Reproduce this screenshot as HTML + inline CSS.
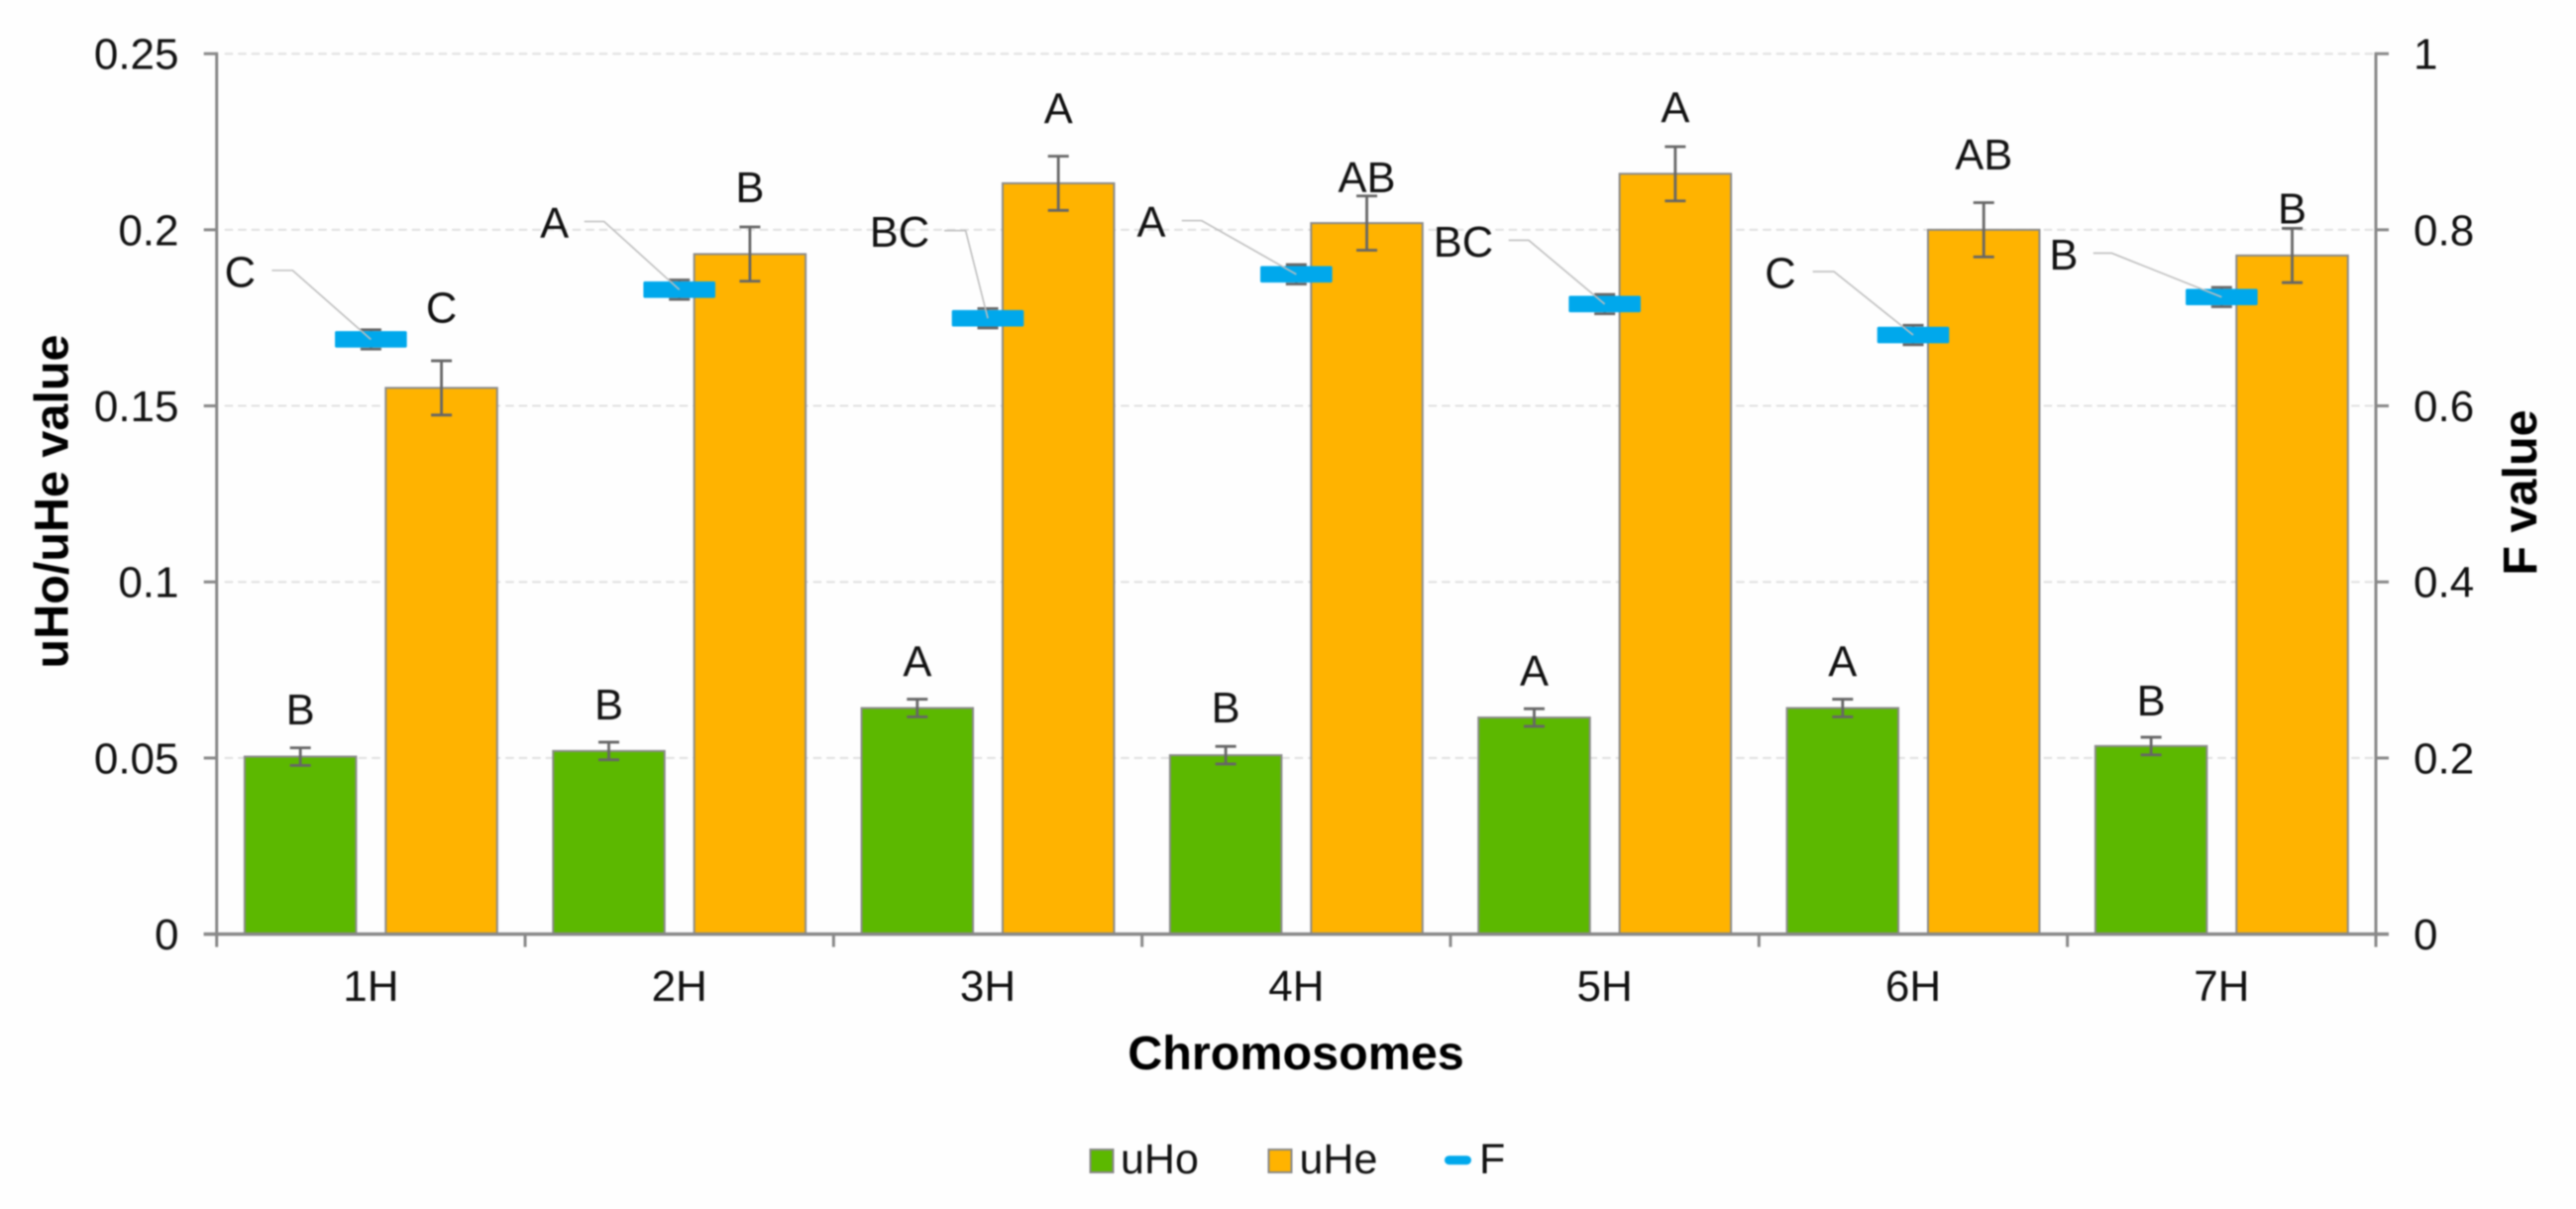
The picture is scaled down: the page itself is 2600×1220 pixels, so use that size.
<!DOCTYPE html>
<html lang="en">
<head>
<meta charset="utf-8">
<title>uHo, uHe and F value by chromosome</title>
<style>
html,body{margin:0;padding:0;background:#fefefe;}
svg{display:block;width:2600px;height:1220px;filter:blur(0.8px);}
text{font-family:"Liberation Sans",Arial,sans-serif;fill:#111;}
.tick{font-size:44px;}
.sig{font-size:43.5px;}
.title{font-size:48.5px;font-weight:bold;fill:#000;}
.leg{font-size:43px;}
</style>
</head>
<body>
<svg id="chart" xmlns="http://www.w3.org/2000/svg" width="2600" height="1220" viewBox="0 0 2600 1220">
  <rect x="0" y="0" width="2600" height="1220" fill="#fefefe"/>
  <g id="grid"></g>
  <g id="bars"></g>
  <g id="axes"></g>
  <g id="errors"></g>
  <g id="fmarks"></g>
  <g id="labels"></g>
  <text class="title" transform="translate(68.5,506) rotate(-90)" text-anchor="middle">uHo/uHe value</text>
  <text class="title" transform="translate(2560,497) rotate(-90)" text-anchor="middle">F value</text>
  <text class="title" x="1308" y="1079" text-anchor="middle">Chromosomes</text>
  <g>
    <rect x="1100.5" y="1160" width="23" height="23" fill="#5cb800" stroke="#888" stroke-width="2"/>
    <text class="leg" x="1131" y="1184">uHo</text>
    <rect x="1280.5" y="1160" width="23" height="23" fill="#ffb300" stroke="#888" stroke-width="2"/>
    <text class="leg" x="1311.5" y="1184">uHe</text>
    <line x1="1462.5" y1="1170.7" x2="1480.5" y2="1170.7" stroke="#00a8ec" stroke-width="9" stroke-linecap="round"/>
    <text class="leg" x="1493" y="1184">F</text>
  </g>
</svg>
<script>
const categories = ['1H','2H','3H','4H','5H','6H','7H'];
const uHoValues = [0.0504,0.0520,0.0642,0.0508,0.0615,0.0642,0.0534];
const uHeValues = [0.1551,0.1931,0.2132,0.2019,0.2159,0.2000,0.1927];
const fValues = [0.6755,0.7320,0.6995,0.7494,0.7156,0.6805,0.7236];
const uHoErrors = [0.0025,0.0025,0.0025,0.0025,0.0025,0.0025,0.0025];
const uHeErrors = [0.0077,0.0077,0.0077,0.0077,0.0077,0.0077,0.0077];
const fErrors = [0.011,0.011,0.011,0.011,0.011,0.011,0.011];
const uHoLetters = ['B','B','A','B','A','A','B'];
const uHeLetters = ['C','B','A','AB','A','AB','B'];
const fLetters = ['C','A','BC','A','BC','C','B'];
const leftTicks = [0,0.05,0.1,0.15,0.2,0.25];
const leftTickLabels = ['0','0.05','0.1','0.15','0.2','0.25'];
const rightTicks = [0,0.2,0.4,0.6,0.8,1];
const rightTickLabels = ['0','0.2','0.4','0.6','0.8','1'];

const NS = 'http://www.w3.org/2000/svg';
const plotLeft = 218.7, plotRight = 2398, plotBottom = 942.6, plotTop = 54.2;
const leftMax = 0.25, rightMax = 1;
const bandWidth = (plotRight - plotLeft) / categories.length;
function yLeft(v){ return plotBottom - (v / leftMax) * (plotBottom - plotTop); }
function yRight(v){ return plotBottom - (v / rightMax) * (plotBottom - plotTop); }
function xBand(i){ return plotLeft + i * bandWidth; }
function xCenter(i){ return xBand(i) + bandWidth / 2; }

function make(parent, tag, attrs, text){
  const el = document.createElementNS(NS, tag);
  for (const k in attrs) el.setAttribute(k, attrs[k]);
  if (text !== undefined) el.textContent = text;
  document.getElementById(parent).appendChild(el);
  return el;
}

function drawGrid(){
  leftTicks.forEach(function(t, i){
    if (t === 0) return;
    const g = make('grid', 'line', {x1: plotLeft + 8, x2: plotRight, y1: yLeft(t), y2: yLeft(t), stroke: '#e0e0e0', 'stroke-width': 2, 'stroke-dasharray': '8.5 5'});
    
    
  });
}

function drawBars(){
  const barW = 112.5, off = 71.2;
  categories.forEach(function(c, i){
    const cx = xCenter(i);
    const a = make('bars', 'rect', {x: cx - off - barW / 2, y: yLeft(uHoValues[i]), width: barW, height: plotBottom - yLeft(uHoValues[i]), fill: '#5cb800', stroke: '#8a8a8a', 'stroke-width': 2});
    
    
    const b = make('bars', 'rect', {x: cx + off - barW / 2, y: yLeft(uHeValues[i]), width: barW, height: plotBottom - yLeft(uHeValues[i]), fill: '#ffb300', stroke: '#8a8a8a', 'stroke-width': 2});
    
    
  });
}

function drawAxes(){
  const axisColor = '#888888';
  const left = make('axes', 'line', {x1: plotLeft, x2: plotLeft, y1: plotTop - 1.5, y2: plotBottom + 13, stroke: axisColor, 'stroke-width': 3});
  
  
  const right = make('axes', 'line', {x1: plotRight, x2: plotRight, y1: plotTop - 1.5, y2: plotBottom + 13, stroke: axisColor, 'stroke-width': 3});
  
  
  const bottom = make('axes', 'line', {x1: plotLeft - 13, x2: plotRight + 13, y1: plotBottom, y2: plotBottom, stroke: axisColor, 'stroke-width': 3.5});
  
  
  leftTicks.forEach(function(t, i){
    const y = yLeft(t);
    const m = make('axes', 'line', {x1: plotLeft - 13, x2: plotLeft, y1: y, y2: y, stroke: axisColor, 'stroke-width': 3});
    
    
    const l = make('axes', 'text', {x: 180.5, y: y + 15.5, 'text-anchor': 'end', class: 'tick'}, leftTickLabels[i]);
    
    
  });
  rightTicks.forEach(function(t, i){
    const y = yRight(t);
    const m = make('axes', 'line', {x1: plotRight, x2: plotRight + 13, y1: y, y2: y, stroke: axisColor, 'stroke-width': 3});
    
    
    const l = make('axes', 'text', {x: 2436, y: y + 15.5, class: 'tick'}, rightTickLabels[i]);
    
    
  });
  categories.forEach(function(c, i){
    if (i > 0) {
      const m = make('axes', 'line', {x1: xBand(i), x2: xBand(i), y1: plotBottom, y2: plotBottom + 13, stroke: axisColor, 'stroke-width': 3});
      
      
    }
    const l = make('axes', 'text', {x: xCenter(i), y: 1010, 'text-anchor': 'middle', class: 'tick'}, c);
    
    
  });
}

function errorBar(cx, yHi, yLo, name){
  const color = '#666';
  const s = make('errors', 'line', {x1: cx, x2: cx, y1: yHi, y2: yLo, stroke: color, 'stroke-width': 2.8});
  
  
  const t = make('errors', 'line', {x1: cx - 10.5, x2: cx + 10.5, y1: yHi, y2: yHi, stroke: color, 'stroke-width': 2.8});
  
  
  const b = make('errors', 'line', {x1: cx - 10.5, x2: cx + 10.5, y1: yLo, y2: yLo, stroke: color, 'stroke-width': 2.8});
  
  
}

function drawErrors(){
  const off = 71.2;
  categories.forEach(function(c, i){
    const cx = xCenter(i);
    errorBar(cx - off, yLeft(uHoValues[i] + uHoErrors[i]), yLeft(uHoValues[i] - uHoErrors[i]), 'error-uho-' + c);
    errorBar(cx + off, yLeft(uHeValues[i] + uHeErrors[i]), yLeft(uHeValues[i] - uHeErrors[i]), 'error-uhe-' + c);
    errorBar(cx, yRight(fValues[i] + fErrors[i]), yRight(fValues[i] - fErrors[i]), 'error-f-' + c);
  });
}

function drawF(){
  categories.forEach(function(c, i){
    const m = make('fmarks', 'rect', {x: xCenter(i) - 36.3, y: yRight(fValues[i]) - 8.3, width: 72.6, height: 16.6, rx: 1.5, fill: '#00a8ec'});
    
    
  });
}

function drawLabels(){
  /* hand-placed annotation offsets, all relative to the mark they annotate */
  const uHoLift = [23.4,23,23,24,23,23,22];
  const uHeLift = [38.6,25,33,4,24.5,33.6,5];
  const leaderStart = [-100,-96,-44,-115.6,-97,-101.4,-129.6];
  const leaderElbow = [-79,-76,-22.4,-95.5,-76.7,-80,-110.8];
  const leaderRise = [69.6,68.8,88.5,54.2,64.4,64,44.3];
  const letterShift = [-132,-126,-89,-146.4,-142.7,-134,-159.4];
  const off = 71.2;
  categories.forEach(function(c, i){
    const cx = xCenter(i);
    const a = make('labels', 'text', {x: cx - off, y: yLeft(uHoValues[i] + uHoErrors[i]) - uHoLift[i], 'text-anchor': 'middle', class: 'sig'}, uHoLetters[i]);
    
    
    const b = make('labels', 'text', {x: cx + off, y: yLeft(uHeValues[i] + uHeErrors[i]) - uHeLift[i], 'text-anchor': 'middle', class: 'sig'}, uHeLetters[i]);
    
    
    const fy = yRight(fValues[i]);
    const ly = fy - leaderRise[i];
    const pts = [[cx + leaderStart[i], ly], [cx + leaderElbow[i], ly], [cx, fy]].map(function(p){ return p.join(','); }).join(' ');
    const l = make('labels', 'polyline', {points: pts, fill: 'none', stroke: '#bebebe', 'stroke-width': 1.6});
    
    
    const f = make('labels', 'text', {x: cx + letterShift[i], y: ly + 16.5, 'text-anchor': 'middle', class: 'sig'}, fLetters[i]);
    
    
  });
}

drawGrid();
drawBars();
drawAxes();
drawErrors();
drawF();
drawLabels();
</script>
</body>
</html>
